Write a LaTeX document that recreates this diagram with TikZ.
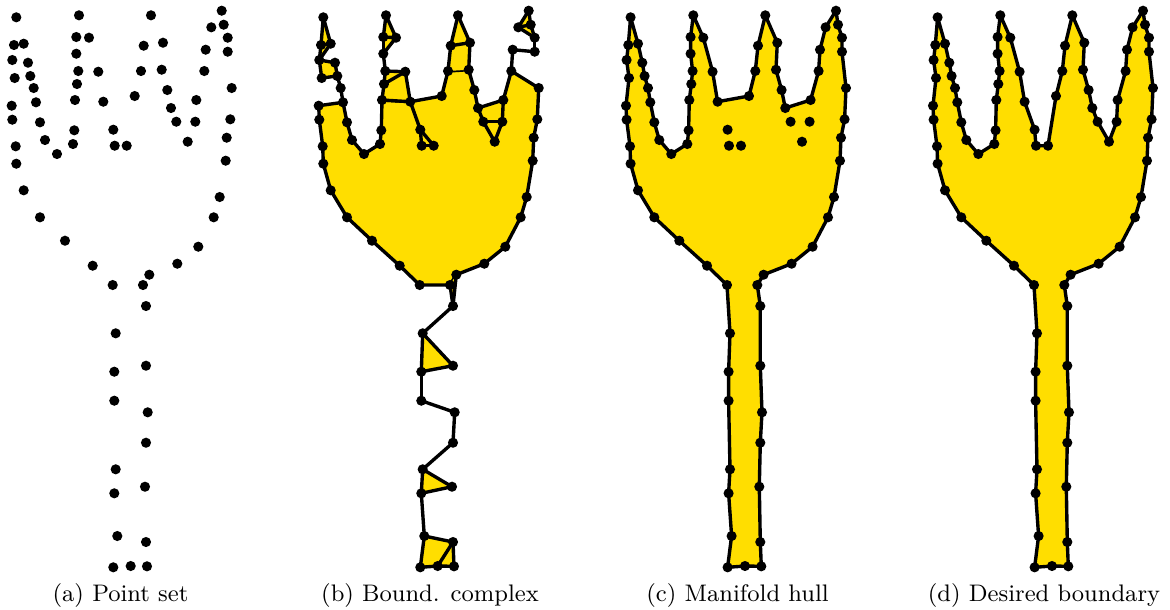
\documentclass[tikz,border=0pt]{standalone}
\usepackage{tikz}
\usetikzlibrary{backgrounds}
\definecolor{forkyellow}{HTML}{FFDE00}

% Sampled points of the fork, in reference pixels
\newcommand{\forkpoints}{112.7/285, 92.7/265.7, 65/240.7, 40/217.3, 23.7/190.3, 16.3/163.7, 15.7/146.3, 12.3/119.7, 11.7/105.7, 14.7/78,
    12.3/60, 14/45, 16.3/17.3, 23.7/43.7, 28/62.7, 30.3/76, 33.7/88, 36/102.3, 40/122.3, 45/140,
    57/154, 73/144, 74.3/130.3, 75/100, 77/84, 78.3/71, 76.3/53.7, 76.3/37, 79/15.3, 89/37.7,
    98.3/71.7, 103.3/101.7, 113.3/129.7, 114.7/145.7, 126.7/145.7, 134.7/96, 141/71, 143.7/45.7, 151/15.3, 163/42.7,
    161.7/69.7, 167.3/90, 171/108, 176.3/121.7, 187.7/141.7, 195.3/121.7, 196.3/100, 204.3/71, 205.7/49.7, 211.3/27.3,
    221.7/10.7, 223.7/24.7, 227.7/37.7, 227.7/51.7, 231.7/88, 230.3/119.3, 226.7/137.7, 225.7/160.7, 219.7/197, 213.7/217.3,
    198.3/246.7, 177.3/263.7, 149.3/274.7, 143/285, 146/306, 146/365.7, 147.7/412.3, 146/442.7, 145/486.7, 146/542,
    147/566.3, 130.7/566, 113.3/567.3, 117.3/536, 114.3/493.3, 115.7/469.3, 114.3/400.7, 114.3/371.7, 115.7/333.3}

\begin{document}
\begin{tikzpicture}[
        x=0.3846pt, y=-0.3846pt,
        sample/.style={circle, fill=black, inner sep=0pt, minimum size=3.9pt},
        edge/.style={black, line width=1.3pt, line join=round},
        region/.style={fill=forkyellow, draw=none},
        hull/.style={edge, fill=forkyellow},
        caption/.style={anchor=base, font=\fontsize{9.2}{11}\selectfont}
    ]
        \useasboundingbox (0, 0) rectangle (1170, 609);

        % All four panels show the same samples
        \foreach \panel/\dx in {a/0, b/307, c/614.3, d/921.3}
            \foreach \x/\y [count=\i] in \forkpoints
                \node[sample] (\panel\i) at (\x+\dx, \y) {};

        \begin{scope}[on background layer]
            % (b) Main body
            \filldraw[hull] (b1.center) \foreach \i in {2,...,9,18,19,...,24,32,36,37,41,42,43,47,48,55,56,...,64} {-- (b\i.center)} -- cycle;

            % (b) Small patches
            \foreach \first/\others in {13/{12,14}, 12/{14,11}, 11/{15,16,10}, 29/{28,30}, 28/{30,27}, 26/{31,25}, 25/{31,32,24},
                    39/{38,40}, 38/{40,41,37}, 51/{50,52}, 50/{52,53}, 63/{64,65}, 79/{78,66}, 76/{75,69}, 74/{70,71,72,73}}
                \fill[region] (b\first.center) \foreach \i in \others {-- (b\i.center)} -- cycle;

            % (b) Edges of the complex
            \foreach \u/\v in {13/12, 13/14, 12/14, 14/11, 12/11, 11/15, 11/10, 10/16, 15/16, 16/17, 17/18,
                    29/28, 29/30, 28/30, 30/27, 28/27, 27/26, 26/31, 26/25, 25/31, 25/24, 31/32, 24/32, 32/33, 33/34, 33/35, 34/35,
                    39/38, 39/40, 38/40, 38/37, 40/41, 43/44, 44/46, 46/47, 44/45, 45/46,
                    48/49, 49/54, 54/53, 53/52, 52/51, 51/50, 50/52, 50/53,
                    64/65, 63/65, 65/79, 79/78, 78/66, 66/79, 78/77, 77/67, 67/68, 68/76, 76/75, 75/69, 69/76,
                    75/74, 74/70, 70/71, 71/72, 72/73, 73/74, 70/72}
                \draw[edge] (b\u.center) -- (b\v.center);

            % (c) Hull leaves six samples inside
            \filldraw[hull] (c1.center) \foreach \i in {2,3,...,32,36,37,...,43,47,48,...,79} {-- (c\i.center)} -- cycle;

            % (d) Full boundary
            \filldraw[hull] (d1.center) \foreach \i in {2,3,...,79} {-- (d\i.center)} -- cycle;
        \end{scope}

        % Captions
        \node[caption] (capa) at (120.5, 601) {(a) Point set};
        \node[caption] (capb) at (430, 601) {(b) Bound. complex};
        \node[caption] (capc) at (737.5, 601) {(c) Manifold hull};
        \node[caption] (capd) at (1044, 601) {(d) Desired boundary};

    \end{tikzpicture}
\end{document}
